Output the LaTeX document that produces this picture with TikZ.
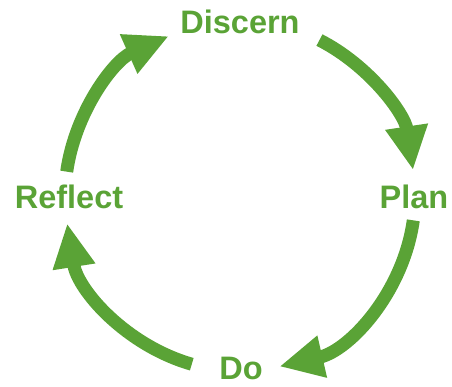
\documentclass[tikz,border=0pt]{standalone}
\usepackage{fontspec}
\setmainfont{Liberation Sans}
\usetikzlibrary{arrows.meta}
\definecolor{verde}{RGB}{90,163,54}
\tikzset{
  fase/.style={text=verde, font=\fontsize{32.5}{32.5}\selectfont\bfseries, inner sep=0pt},
  freccia/.style={draw=verde, line width=13pt, -{Triangle[length=44pt,width=40pt]}}
}
\begin{document}
\begin{tikzpicture}[x=1pt,y=1pt]
  \useasboundingbox (0,0) rectangle (452,386);
  \coordinate (c) at (240,190);
  %fasi
  \node[fase] (discern) at (240,364) {Discern};
  \node[fase] (plan) at (414,189) {Plan};
  \node[fase] (do) at (241,18) {Do};
  \node[fase] (reflect) at (69,189) {Reflect};
  %frecce
  \draw[freccia] ([shift={(63:175pt)}]c) arc[start angle=63, end angle=8.5, radius=175pt];
  \draw[freccia] ([shift={(-8:175pt)}]c) arc[start angle=-8, end angle=-77, radius=175pt];
  \draw[freccia] ([shift={(-106:175pt)}]c) arc[start angle=-106, end angle=-171, radius=175pt];
  \draw[freccia] ([shift={(172:175pt)}]c) arc[start angle=172, end angle=114, radius=175pt];
\end{tikzpicture}
\end{document}
